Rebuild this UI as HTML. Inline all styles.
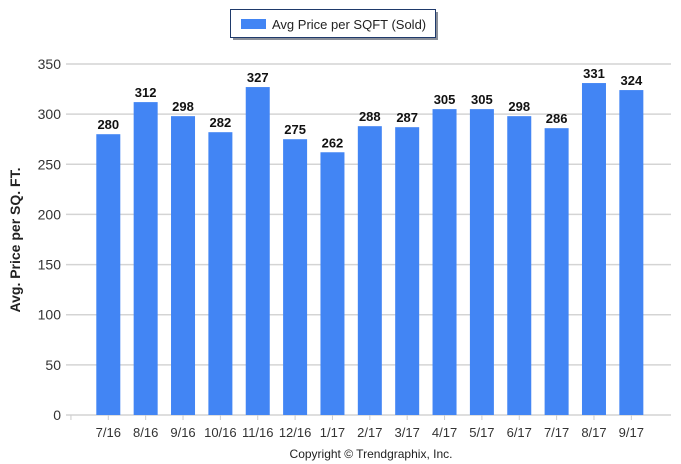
<!DOCTYPE html>
<html><head><meta charset="utf-8"><style>
body{margin:0;background:#fff;}
svg{display:block;font-family:"Liberation Sans",sans-serif;}
</style></head><body>
<svg width="681" height="464" viewBox="0 0 681 464">
<rect x="233" y="12" width="205" height="28" fill="#8a8f99"/>
<rect x="230.5" y="9.5" width="205" height="28" fill="#fff" stroke="#1f3a6b"/>
<rect x="241" y="19" width="25" height="10" fill="#4285f4"/>
<text x="272" y="29" font-size="13" fill="#222">Avg Price per SQFT (Sold)</text>
<g id="grid"></g>
<g id="bars"></g>
<text transform="translate(20,240) rotate(-90)" text-anchor="middle" font-size="14" font-weight="bold" fill="#222">Avg. Price per SQ. FT.</text>
<text x="371" y="458" text-anchor="middle" font-size="12" fill="#222">Copyright © Trendgraphix, Inc.</text>
</svg>
<script>
const categories=["7/16","8/16","9/16","10/16","11/16","12/16","1/17","2/17","3/17","4/17","5/17","6/17","7/17","8/17","9/17"];
const values=[280,312,298,282,327,275,262,288,287,305,305,298,286,331,324];
const yTicks=[0,50,100,150,200,250,300,350];
const NS="http://www.w3.org/2000/svg";
const y0=415,yTop=64,yMax=350;
function yS(v){return y0-(v/yMax)*(y0-yTop);}
function xS(i){return 108.3+i*37.36;}
function mk(t,a,p){const e=document.createElementNS(NS,t);for(const k in a)e.setAttribute(k,a[k]);p.appendChild(e);return e;}
const grid=document.getElementById('grid'),bars=document.getElementById('bars');
yTicks.forEach(v=>{
  const l=mk('line',{x1:66,x2:671,y1:yS(v),y2:yS(v),stroke:'#d4d4d4','stroke-width':1.5},grid);
  
  
  const t=mk('text',{x:61,y:yS(v)+5,'text-anchor':'end','font-size':14,fill:'#333'},grid);
  t.textContent=v;
  
  
});
const tk=mk('line',{x1:xS(-1),x2:xS(-1),y1:y0,y2:y0+5,stroke:'#ccc'},grid);


categories.forEach((c,i)=>{
  const cx=xS(i),v=values[i];
  const b=mk('rect',{x:cx-12,y:yS(v),width:24,height:y0-yS(v),fill:'#4285f4'},bars);
  
  
  const t=mk('line',{x1:cx,x2:cx,y1:y0,y2:y0+5,stroke:'#ccc'},bars);
  
  
  const lb=mk('text',{x:cx,y:yS(v)-5,'text-anchor':'middle','font-size':13,'font-weight':'bold',fill:'#111'},bars);
  lb.textContent=v;
  
  
  const xl=mk('text',{x:cx,y:437,'text-anchor':'middle','font-size':13,fill:'#333'},bars);
  xl.textContent=c;
  
  
});
</script>
</body></html>
